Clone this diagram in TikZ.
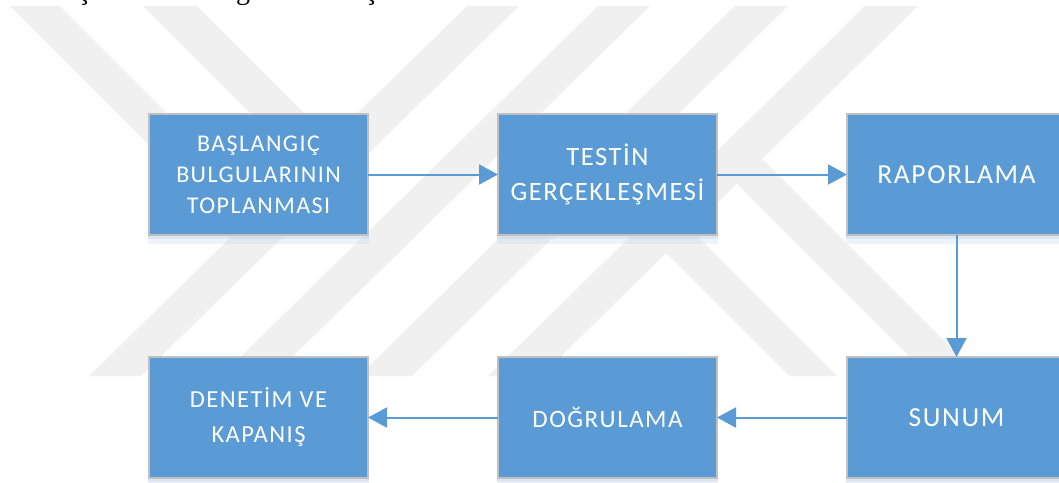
\documentclass[tikz,border=0pt]{standalone}
\usepackage{fontspec}
\usetikzlibrary{arrows.meta}
\newfontfamily\bxfont{Carlito}[LetterSpace=6]
\newfontfamily\serfont{Liberation Serif}
\definecolor{boxblue}{RGB}{91,155,213}
\definecolor{boxedge}{RGB}{192,192,192}
\definecolor{wmgray}{RGB}{240,240,240}
\definecolor{shadowc}{RGB}{190,210,232}
\begin{document}
\begin{tikzpicture}[x=1pt,y=-1pt,
  flowbox/.style={draw=boxedge, line width=1.5pt, fill=boxblue,
    minimum width=219pt, minimum height=121pt, inner sep=0pt, outer sep=0pt,
    text=white, align=center},
  flowarrow/.style={draw=boxblue, line width=2pt, -{Triangle[length=19pt,width=20pt]}},
  wm/.style={fill=wmgray},
  frag/.style={inner sep=0pt, anchor=base, text=black, font=\serfont\fontsize{28}{28}\selectfont}
]
\useasboundingbox (0,0) rectangle (1059,482);
\clip (0,0) rectangle (1059,482);
\fill[white] (0,0) rectangle (1059,482);
% watermark bands
\fill[wm] (467,6) -- (519,6) -- (141,376) -- (89,376) -- cycle;
\fill[wm] (598,6) -- (650,6) -- (273,376) -- (221,376) -- cycle;
\fill[wm] (735,6) -- (788,6) -- (412,376) -- (359,376) -- cycle;
\fill[wm] (865,6) -- (918,6) -- (541,376) -- (488,376) -- cycle;
\fill[wm] (10,6) -- (60,6) -- (254,200) -- (204,200) -- cycle;
\fill[wm] (143,6) -- (197,6) -- (351,160) -- (297,160) -- cycle;
\fill[wm] (654,241) -- (789,376) -- (837,376) -- (678,217) -- cycle;
\fill[wm] (728,175) -- (929,376) -- (979,376) -- (753,150) -- cycle;
% cut-off text line above the figure
\node[frag] (f1) at (85,-1) {ş};
\node[frag] (f2) at (243,-1) {g};
\node[frag] (f3) at (372,-1) {ş};
% boxes
\node[flowbox, font=\bxfont\fontsize{24}{31}\selectfont] (b1) at (258.5,174.5) {BAŞLANGIÇ\\BULGULARININ\\TOPLANMASI};
\node[flowbox, font=\bxfont\fontsize{26.5}{35}\selectfont] (b2) at (607.5,174.5) {TESTİN\\GERÇEKLEŞMESİ};
\node[flowbox, font=\bxfont\fontsize{27.5}{35}\selectfont] (b3) at (956.5,174.5) {RAPORLAMA};
\node[flowbox, font=\bxfont\fontsize{24.5}{35}\selectfont] (b4) at (258.5,417.5) {DENETİM VE\\KAPANIŞ};
\node[flowbox, font=\bxfont\fontsize{25}{35}\selectfont] (b5) at (607.5,417.5) {DOĞRULAMA};
\node[flowbox, font=\bxfont\fontsize{27.5}{35}\selectfont] (b6) at (956.5,417.5) {SUNUM};
% soft shadows under the boxes
\foreach \b in {b1,b2,b3,b4,b5,b6}{
  \fill[shadowc, opacity=0.25] ([xshift=-1pt,yshift=-0.75pt]\b.south west) rectangle ([xshift=1pt,yshift=-9pt]\b.south east);
  \fill[shadowc, opacity=0.35] ([xshift=-1pt,yshift=-0.75pt]\b.south west) rectangle ([xshift=1pt,yshift=-4pt]\b.south east);
}
% connectors
\draw[flowarrow] (b1.east) -- (b2.west);
\draw[flowarrow] (b2.east) -- (b3.west);
\draw[flowarrow] (b3.south) -- (b6.north);
\draw[flowarrow] (b6.west) -- (b5.east);
\draw[flowarrow] (b5.west) -- (b4.east);
\end{tikzpicture}
\end{document}
